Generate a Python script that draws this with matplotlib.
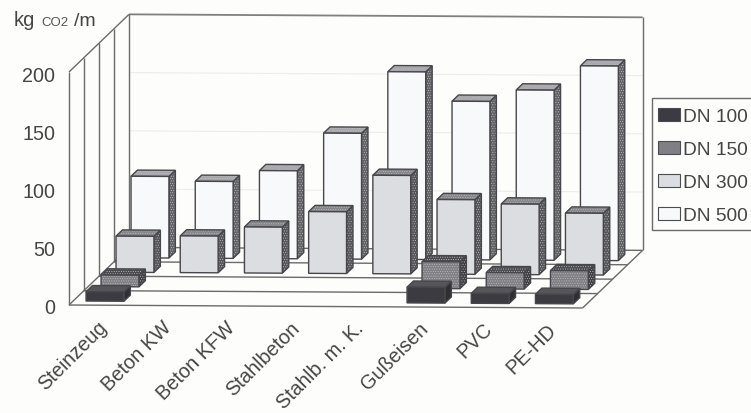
import matplotlib
matplotlib.use('Agg')
import matplotlib.pyplot as plt
from matplotlib.patches import Polygon, Patch, Rectangle

plt.rcParams['font.family'] = ['Liberation Sans', 'DejaVu Sans']
plt.rcParams['hatch.linewidth'] = 0.4

# Values (kg CO2 / m), 0 = no bar drawn
categories = ['Steinzeug', 'Beton KW', 'Beton KFW', 'Stahlbeton', 'Stahlb. m. K.', 'Gußeisen', 'PVC', 'PE-HD']
series_names = ['DN 100', 'DN 150', 'DN 300', 'DN 500']
dn100 = [8, 0, 0, 0, 0, 13.5, 8.5, 8]
dn150 = [10, 0, 0, 0, 0, 23, 14, 16]
dn300 = [31, 31.5, 39.5, 53, 84.5, 64, 60.5, 53]
dn500 = [70, 66, 75.5, 108, 161, 136, 146, 167]
series_values = [dn100, dn150, dn300, dn500]
y_ticks = [0, 50, 100, 150, 200]

# front, top, side colour of each series
colours = [('#3b3b41', '#55555a', '#2e2e33'),
           ('#7f7f84', '#4a4a4f', '#3f3f44'),
           ('#dcdde0', '#85858a', '#55555a'),
           ('#f8f9fb', '#a8a8ac', '#626267')]
text_col = '#454545'
line_col = '#6a6a6a'


def project(x, d, z):
    """category position, depth row and value to picture pixels (oblique view)"""
    px = 69 + 64.2 * x + 15 * d
    py = 306 - 14.5 * d - 1.165 * z + 0.0058 * (px - 69)
    return px, py


def line3d(ax, a, b, **kw):
    pa = project(*a)
    pb = project(*b)
    kw.setdefault('color', line_col)
    kw.setdefault('lw', 1.0)
    ax.plot([pa[0], pb[0]], [pa[1], pb[1]], solid_capstyle='butt', zorder=1, **kw)


def face(ax, pts, col, z, dotted):
    if dotted:
        # halftone look of the scan
        ax.add_patch(Polygon(pts, closed=True, facecolor=col, edgecolor='#bdbdc0', hatch='.......', lw=0, zorder=z))
        ax.add_patch(Polygon(pts, closed=True, fill=False, edgecolor='#47474b', lw=1.0, zorder=z))
    else:
        ax.add_patch(Polygon(pts, closed=True, facecolor=col, edgecolor='#47474b', lw=1.0, zorder=z))


def bar3d(ax, i, row, value, cols, z):
    x0, x1 = i + 0.2, i + 0.79
    d0, d1 = row + 0.28, row + 0.71
    front = [project(x0, d0, 0), project(x1, d0, 0), project(x1, d0, value), project(x0, d0, value)]
    top = [project(x0, d0, value), project(x1, d0, value), project(x1, d1, value), project(x0, d1, value)]
    side = [project(x1, d0, 0), project(x1, d1, 0), project(x1, d1, value), project(x1, d0, value)]
    face(ax, side, cols[2], z, row > 0)
    face(ax, top, cols[1], z, row > 0)
    face(ax, front, cols[0], z, row == 1)


fig, ax = plt.subplots(figsize=(7.51, 4.14), dpi=100)
fig.patch.set_facecolor('#fdfdfb')
ax.set_position([0, 0, 1, 1])
ax.set_xlim(0, 751)
ax.set_ylim(414, 0)
ax.axis('off')

n = len(categories)
rows = len(series_names)

# pale grid on the back wall
for t in y_ticks[1:4]:
    line3d(ax, (0, rows, t), (n, rows, t), color='#ececea', lw=0.8)

# walls and floor
for d in range(rows + 1):
    line3d(ax, (0, d, 0), (0, d, 200))
    line3d(ax, (0, d, 0), (n, d, 0))
line3d(ax, (0, 0, 200), (0, rows, 200))
line3d(ax, (0, 0, 0), (0, rows, 0))
line3d(ax, (0, rows, 200), (n, rows, 200), color='#808080', lw=1.3)
line3d(ax, (n, rows, 0), (n, rows, 200))
line3d(ax, (n, 0, 0), (n, rows, 0))

# bars, back row first
for row in range(rows - 1, -1, -1):
    for i in range(n):
        if series_values[row][i] > 0:
            bar3d(ax, i, row, series_values[row][i], colours[row], 10 + (rows - row) * 10 + i)

# tick labels
for t in y_ticks:
    px, py = project(0, 0, t)
    ax.text(px - 14, py + 8.5, str(t), ha='right', va='baseline', fontsize=14.2, color=text_col)

for i, name in enumerate(categories):
    px, py = project(i + 0.5, 0, 0)
    ax.text(px - 4, py + 11.5, name, ha='right', va='top', rotation=45, rotation_mode='anchor',
            fontsize=14.3, color=text_col)

# axis unit
ax.text(14, 26, 'kg', ha='left', va='baseline', fontsize=14.5, color=text_col)
ax.text(41, 26, 'CO2', ha='left', va='baseline', fontsize=9.5, color='#555555')
ax.text(74, 26, '/m', ha='left', va='baseline', fontsize=14, color=text_col)

# legend runs off the right edge like the scan, so the frame is its own patch
ax.add_patch(Rectangle((652, 99), 110, 132, facecolor='#fdfdfb', edgecolor='#6a6a6a', lw=1.0, zorder=90))
handles = [Patch(facecolor=c[0], edgecolor='#4c4c50', lw=0.8, label=s) for c, s in zip(colours, series_names)]
leg = ax.legend(handles=handles, loc='upper left', bbox_to_anchor=(658, 109), bbox_transform=ax.transData,
                fontsize=13.8, labelcolor=text_col, frameon=False, borderpad=0, borderaxespad=0,
                labelspacing=0.81, handlelength=1.15, handleheight=0.7, handletextpad=0.15)
leg.set_zorder(100)

fig.savefig('out.png', dpi=100, facecolor=fig.get_facecolor())
